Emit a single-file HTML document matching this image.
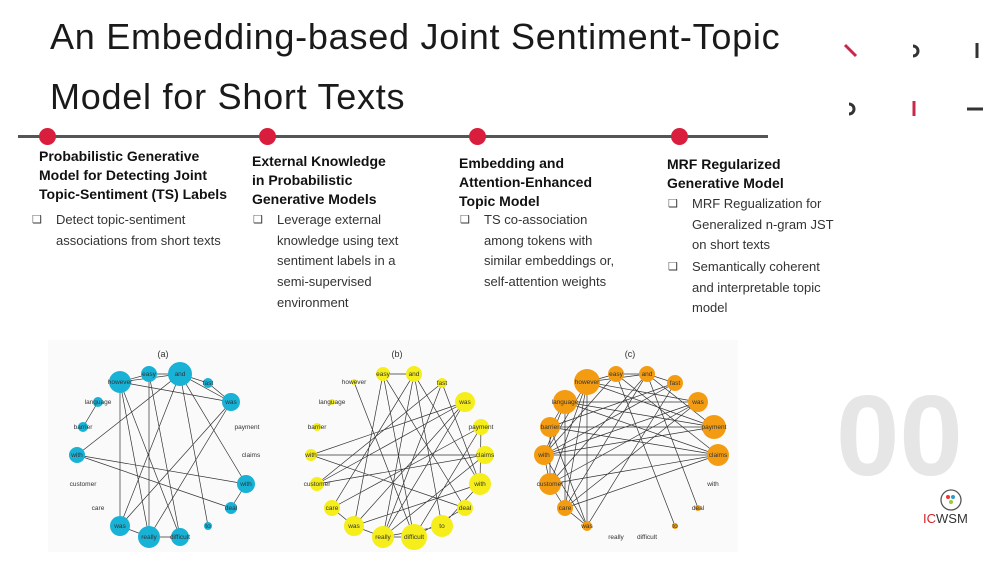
<!DOCTYPE html>
<html><head><meta charset="utf-8"><style>
body{margin:0;width:1000px;height:563px;background:#fff;position:relative;overflow:hidden;font-family:"Liberation Sans",sans-serif}
.t{position:absolute;left:50px;font-size:36px;color:#1a1a1a;white-space:nowrap;letter-spacing:0.75px}
.h{position:absolute;font-weight:bold;font-size:14px;line-height:19px;color:#111}
.b{position:absolute;font-size:13px;line-height:20.7px;color:#333}
.b span{position:absolute;left:-24px;font-size:11px}
</style></head><body>
<div class="t" style="top:16px">An Embedding-based Joint Sentiment-Topic</div>
<div class="t" style="top:76px">Model for Short Texts</div>
<div style="position:absolute;left:18px;top:135px;width:750px;height:3px;background:#555"></div>
<div style="position:absolute;left:39px;top:128px;width:17px;height:17px;border-radius:50%;background:#d81e3c"></div>
<div style="position:absolute;left:259px;top:128px;width:17px;height:17px;border-radius:50%;background:#d81e3c"></div>
<div style="position:absolute;left:469px;top:128px;width:17px;height:17px;border-radius:50%;background:#d81e3c"></div>
<div style="position:absolute;left:671px;top:128px;width:17px;height:17px;border-radius:50%;background:#d81e3c"></div>

<div class="h" style="left:39px;top:147px">Probabilistic Generative<br>Model for Detecting Joint<br>Topic-Sentiment (TS) Labels</div>
<div class="b" style="left:56px;top:210px"><span>❑</span>Detect topic-sentiment<br>associations from short texts</div>
<div class="h" style="left:252px;top:152px">External Knowledge<br>in Probabilistic<br>Generative Models</div>
<div class="b" style="left:277px;top:210px"><span>❑</span>Leverage external<br>knowledge using text<br>sentiment labels in a<br>semi-supervised<br>environment</div>
<div class="h" style="left:459px;top:154px">Embedding and<br>Attention-Enhanced<br>Topic Model</div>
<div class="b" style="left:484px;top:210px"><span>❑</span>TS co-association<br>among tokens with<br>similar embeddings or,<br>self-attention weights</div>
<div class="h" style="left:667px;top:155px">MRF Regularized<br>Generative Model</div>
<div class="b" style="left:692px;top:194px"><span>❑</span>MRF Regualization for<br>Generalized n-gram JST<br>on short texts</div>
<div class="b" style="left:692px;top:257px"><span>❑</span>Semantically coherent<br>and interpretable topic<br>model</div>

<svg style="position:absolute;left:0;top:0" width="1000" height="563">
<g stroke-width="3" fill="none" stroke-linecap="butt">
<line x1="845" y1="45" x2="856" y2="56" stroke="#c8284a"/>
<path d="M913 46 A5 5 0 0 1 913 56" stroke="#333"/>
<line x1="977" y1="43" x2="977" y2="58" stroke="#333"/>
<path d="M849 104 A5 5 0 0 1 849 114" stroke="#333"/>
<line x1="914" y1="101" x2="914" y2="116" stroke="#c8284a"/>
<line x1="967" y1="109" x2="983" y2="109" stroke="#333"/>
</g>
<text x="836" y="475" font-size="114" font-weight="bold" fill="#e6e6e6" font-family="Liberation Sans,sans-serif">00</text>
<circle cx="951" cy="500" r="10" fill="#fff" stroke="#555" stroke-width="1.3"/>
<circle cx="948" cy="497" r="2" fill="#e33"/><circle cx="953" cy="497" r="2" fill="#39c"/><circle cx="951" cy="502" r="2" fill="#9c3"/>
<text x="923" y="523" font-size="13" font-family="Liberation Sans,sans-serif"><tspan fill="#d2232a">IC</tspan><tspan fill="#333">WSM</tspan></text>

<rect x="48" y="340" width="690" height="212" fill="#fafafa"/>
<g font-family="Liberation Sans,sans-serif" font-size="7" fill="#333" text-anchor="middle">
<text x="163" y="357" font-size="9">(a)</text>
<text x="397" y="357" font-size="9">(b)</text>
<text x="630" y="357" font-size="9">(c)</text>
</g>

<g transform="translate(163,450)" font-family="Liberation Sans,sans-serif" font-size="6.5" text-anchor="middle" fill="#333">
<g stroke="#333" stroke-width="0.7">
<path d="M-43 -68L-14 -76M-43 -68L17 -76M-43 -68L68 -48M-43 -68L-43 76M-43 -68L-14 87M-43 -68L17 87M-14 -76L17 -76M-14 -76L-14 87M-14 -76L17 87M17 -76L45 -67M17 -76L68 -48M17 -76L-86 5M17 -76L-43 76M17 -76L45 76M17 -76L83 34M45 -67L68 -48M68 -48L-43 76M68 -48L-14 87M-86 5L83 34M-86 5L68 58M83 34L68 58M-65 -48L-80 -23M-43 76L-14 87M-14 87L17 87"/>
</g>
<g fill="#17b2d6">
<circle cx="-43" cy="-68" r="11"/><circle cx="-14" cy="-76" r="8"/><circle cx="17" cy="-76" r="12"/><circle cx="45" cy="-67" r="5"/><circle cx="68" cy="-48" r="9"/><circle cx="83" cy="34" r="9"/><circle cx="68" cy="58" r="6"/><circle cx="45" cy="76" r="4"/><circle cx="17" cy="87" r="9"/><circle cx="-14" cy="87" r="11"/><circle cx="-43" cy="76" r="10"/><circle cx="-86" cy="5" r="8"/><circle cx="-80" cy="-23" r="5"/><circle cx="-65" cy="-48" r="5"/>
</g>
<text x="-43" y="-66">however</text><text x="-14" y="-74">easy</text><text x="17" y="-74">and</text><text x="45" y="-65">fast</text><text x="68" y="-46">was</text><text x="84" y="-21">payment</text><text x="88" y="7">claims</text><text x="83" y="36">with</text><text x="68" y="60">deal</text><text x="45" y="78">to</text><text x="17" y="89">difficult</text><text x="-14" y="89">really</text><text x="-43" y="78">was</text><text x="-65" y="60">care</text><text x="-80" y="36">customer</text><text x="-86" y="7">with</text><text x="-80" y="-21">barrier</text><text x="-65" y="-46">language</text>
</g>

<g transform="translate(397,450)" font-family="Liberation Sans,sans-serif" font-size="6.5" text-anchor="middle" fill="#333">
<g stroke="#333" stroke-width="0.7">
<path d="M-14 -76L17 -76M-14 -76L-43 76M-14 -76L17 87M17 -76L-14 87M17 -76L-65 58M17 -76L45 76M45 -67L83 34M45 -67L-80 34M68 -48L-43 76M68 -48L-14 87M68 -48L-86 5M84 -23L17 87M84 -23L-65 58M84 -23L83 34M88 5L-14 87M88 5L-80 34M83 34L45 76M83 34L-43 76M68 58L-86 5M68 58L17 87M45 76L-14 87M17 87L-14 87M-14 87L-43 76M-43 76L-65 58M-80 34L68 -48M-86 5L88 5M-43 -68L17 87M-14 -76L68 58M45 -67L-14 87M17 -76L83 34"/>
</g>
<g fill="#f5ee1a">
<circle cx="-43" cy="-68" r="3"/><circle cx="-14" cy="-76" r="7"/><circle cx="17" cy="-76" r="8"/><circle cx="45" cy="-67" r="5"/><circle cx="68" cy="-48" r="10"/><circle cx="84" cy="-23" r="8"/><circle cx="88" cy="5" r="9"/><circle cx="83" cy="34" r="11"/><circle cx="68" cy="58" r="8"/><circle cx="45" cy="76" r="11"/><circle cx="17" cy="87" r="13"/><circle cx="-14" cy="87" r="11"/><circle cx="-43" cy="76" r="10"/><circle cx="-65" cy="58" r="8"/><circle cx="-80" cy="34" r="7"/><circle cx="-86" cy="5" r="6"/><circle cx="-80" cy="-23" r="4"/><circle cx="-65" cy="-48" r="3"/>
</g>
<text x="-43" y="-66">however</text><text x="-14" y="-74">easy</text><text x="17" y="-74">and</text><text x="45" y="-65">fast</text><text x="68" y="-46">was</text><text x="84" y="-21">payment</text><text x="88" y="7">claims</text><text x="83" y="36">with</text><text x="68" y="60">deal</text><text x="45" y="78">to</text><text x="17" y="89">difficult</text><text x="-14" y="89">really</text><text x="-43" y="78">was</text><text x="-65" y="60">care</text><text x="-80" y="36">customer</text><text x="-86" y="7">with</text><text x="-80" y="-21">barrier</text><text x="-65" y="-46">language</text>
</g>

<g transform="translate(630,450)" font-family="Liberation Sans,sans-serif" font-size="6.5" text-anchor="middle" fill="#333">
<g stroke="#333" stroke-width="0.7">
<path d="M-43 -68L-14 -76M-43 -68L17 -76M-43 -68L68 -48M-43 -68L-80 34M-43 -68L-65 58M-43 -68L84 -23M-43 -68L-43 76M-14 -76L17 -76M-14 -76L88 5M-14 -76L-86 5M17 -76L45 -67M17 -76L-65 58M17 -76L-80 34M17 -76L84 -23M45 -67L-86 5M45 -67L-80 -23M45 -67L-43 76M68 -48L-65 -48M68 -48L-80 34M68 -48L-65 58M84 -23L-86 5M84 -23L-80 -23M84 -23L-65 -48M88 5L-65 -48M88 5L-80 34M88 5L-65 58M88 5L-86 5M-65 -48L-80 -23M-65 -48L-86 5M-65 -48L-65 58M-80 -23L-80 34M-80 -23L88 5M-86 5L-80 34M-86 5L-43 76M-80 34L-65 58M-65 58L-43 76M-43 -68L-86 5M17 -76L68 58M-14 -76L45 76M68 -48L-86 5M-80 -23L-43 76"/>
</g>
<g fill="#f39c12">
<circle cx="-43" cy="-68" r="13"/><circle cx="-14" cy="-76" r="8"/><circle cx="17" cy="-76" r="8"/><circle cx="45" cy="-67" r="8"/><circle cx="68" cy="-48" r="10"/><circle cx="84" cy="-23" r="12"/><circle cx="88" cy="5" r="11"/><circle cx="68" cy="58" r="3"/><circle cx="45" cy="76" r="3"/><circle cx="-43" cy="76" r="5"/><circle cx="-65" cy="58" r="8"/><circle cx="-80" cy="34" r="11"/><circle cx="-86" cy="5" r="10"/><circle cx="-80" cy="-23" r="10"/><circle cx="-65" cy="-48" r="12"/>
</g>
<text x="-43" y="-66">however</text><text x="-14" y="-74">easy</text><text x="17" y="-74">and</text><text x="45" y="-65">fast</text><text x="68" y="-46">was</text><text x="84" y="-21">payment</text><text x="88" y="7">claims</text><text x="83" y="36">with</text><text x="68" y="60">deal</text><text x="45" y="78">to</text><text x="17" y="89">difficult</text><text x="-14" y="89">really</text><text x="-43" y="78">was</text><text x="-65" y="60">care</text><text x="-80" y="36">customer</text><text x="-86" y="7">with</text><text x="-80" y="-21">barrier</text><text x="-65" y="-46">language</text>
</g>
</svg>
</body></html>
